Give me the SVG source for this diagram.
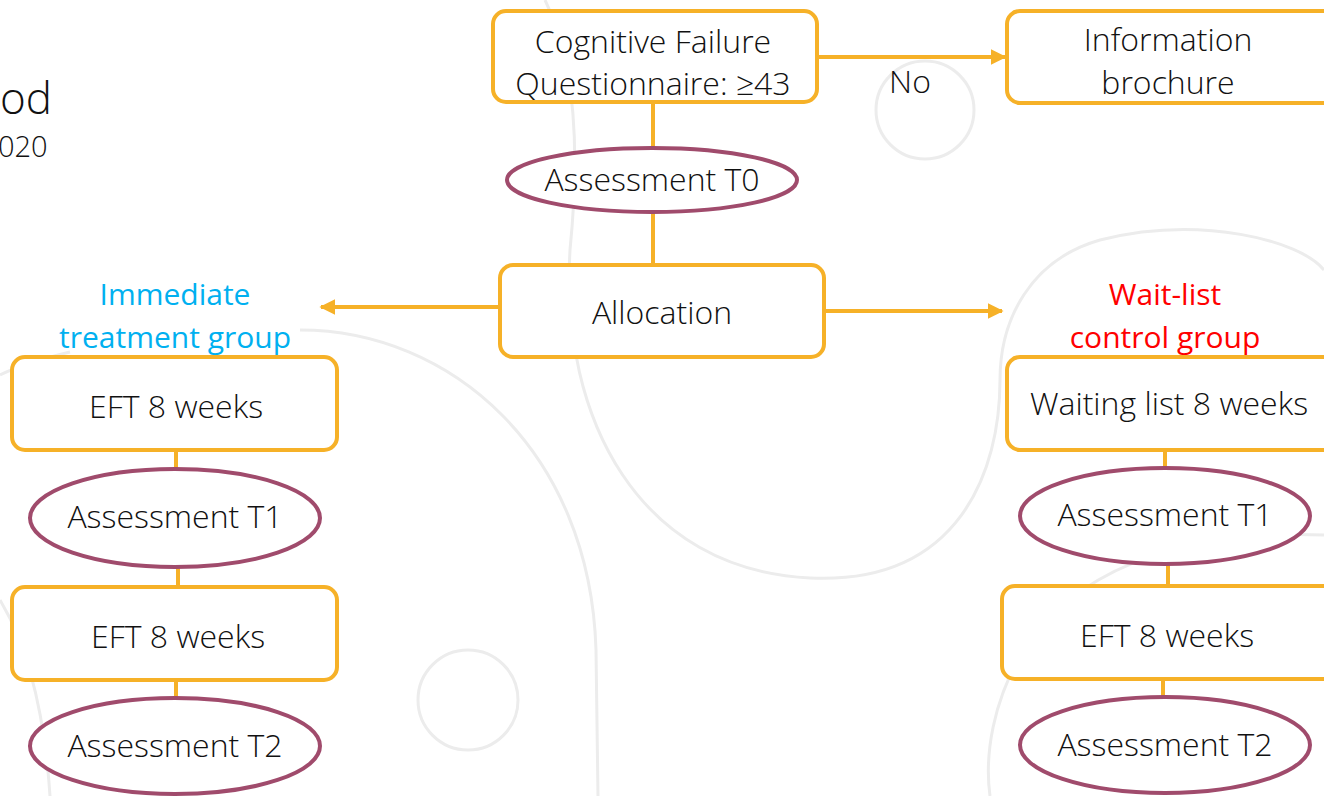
<svg xmlns="http://www.w3.org/2000/svg" width="1324" height="796" viewBox="0 0 1324 796">
<defs>
<style>
.bg{fill:none;stroke:#ececec;stroke-width:3}
.box{fill:#fff;stroke:#F6B128;stroke-width:4}
.ell{fill:#fff;stroke:#A04B6C;stroke-width:4}
.ln{fill:none;stroke:#F6B128;stroke-width:4}
.t{font-family:"Open Sans","Noto Sans",sans-serif;font-size:32px;fill:#111;text-anchor:middle;font-weight:300}
.g{font-family:"Open Sans","Noto Sans",sans-serif;font-size:30px;text-anchor:middle}
</style>
<marker id="ah" viewBox="0 0 10 10" refX="9" refY="5" markerWidth="4" markerHeight="4" orient="auto-start-reverse" markerUnits="strokeWidth">
<path d="M0,0 L10,5 L0,10 z" fill="#F6B128"/>
</marker>
</defs>
<rect width="1324" height="796" fill="#fff"/>
<g id="background">
<circle class="bg" cx="925" cy="110" r="49"/>
<circle class="bg" cx="468" cy="700" r="50"/>
<path class="bg" d="M545,0 C575,60 580,150 570,250 C560,420 640,570 810,578 C960,585 1000,470 1000,380 C1000,320 1030,260 1100,240 C1200,215 1300,240 1324,270"/>
<path class="bg" d="M300,330 C450,330 590,450 596,650 L598,796"/>
<path class="bg" d="M0,375 C20,365 45,358 70,352"/>
<path class="bg" d="M1324,535 C1200,530 1090,560 1030,640 C990,700 985,760 990,796"/>
<path class="bg" d="M0,600 C30,650 45,720 50,796"/>
</g>
<g id="header">
<text x="0" y="114" style="font-family:'Open Sans','Noto Sans',sans-serif;font-size:44px;fill:#111;font-weight:300">od</text>
<text x="-2" y="157" style="font-family:'Open Sans','Noto Sans',sans-serif;font-size:29px;fill:#111;font-weight:300">020</text>
</g>
<g id="connectors">
<line class="ln" x1="817" y1="57" x2="1005" y2="57" marker-end="url(#ah)"/>
<line class="ln" x1="653" y1="102" x2="653" y2="150"/>
<line class="ln" x1="653" y1="211" x2="653" y2="266"/>
<line class="ln" x1="500" y1="307" x2="321" y2="307" marker-end="url(#ah)"/>
<line class="ln" x1="824" y1="311" x2="1002" y2="311" marker-end="url(#ah)"/>
<line class="ln" x1="176" y1="450" x2="176" y2="470"/>
<line class="ln" x1="178" y1="566" x2="178" y2="588"/>
<line class="ln" x1="176" y1="680" x2="176" y2="700"/>
<line class="ln" x1="1165" y1="450" x2="1165" y2="469"/>
<line class="ln" x1="1168" y1="563" x2="1168" y2="587"/>
<line class="ln" x1="1163" y1="679" x2="1163" y2="700"/>
<text x="910" y="93" class="t">No</text>
</g>
<g id="cfq">
<rect class="box" x="493" y="11" width="324" height="91" rx="13"/>
<text x="653" y="53" class="t">Cognitive Failure</text>
<text x="653" y="95" class="t">Questionnaire: ≥43</text>
</g>
<g id="brochure">
<rect class="box" x="1007" y="11" width="330" height="92" rx="13"/>
<text x="1168" y="51" class="t">Information</text>
<text x="1168" y="94" class="t">brochure</text>
</g>
<g id="t0">
<ellipse class="ell" cx="652" cy="180" rx="145" ry="32"/>
<text x="652" y="191" class="t">Assessment T0</text>
</g>
<g id="allocation">
<rect class="box" x="500" y="265" width="324" height="92" rx="13"/>
<text x="662" y="324" class="t">Allocation</text>
</g>
<g id="immediate">
<text x="175" y="305" class="g" fill="#00B0F0">Immediate</text>
<text x="175" y="348" class="g" fill="#00B0F0">treatment group</text>
</g>
<g id="waitlist">
<text x="1165" y="305" class="g" fill="#FF0000">Wait-list</text>
<text x="1165" y="348" class="g" fill="#FF0000">control group</text>
</g>
<g id="left-eft1">
<rect class="box" x="12" y="357" width="325" height="93" rx="13"/>
<text x="176" y="418" class="t">EFT 8 weeks</text>
</g>
<g id="left-t1">
<ellipse class="ell" cx="175" cy="518" rx="145" ry="49"/>
<text x="175" y="528" class="t">Assessment T1</text>
</g>
<g id="left-eft2">
<rect class="box" x="12" y="587" width="325" height="93" rx="13"/>
<text x="178" y="648" class="t">EFT 8 weeks</text>
</g>
<g id="left-t2">
<ellipse class="ell" cx="175" cy="746" rx="145" ry="48"/>
<text x="175" y="757" class="t">Assessment T2</text>
</g>
<g id="right-wait">
<rect class="box" x="1007" y="357" width="330" height="93" rx="13"/>
<text x="1169" y="415" class="t">Waiting list 8 weeks</text>
</g>
<g id="right-t1">
<ellipse class="ell" cx="1165" cy="516" rx="145" ry="48"/>
<text x="1165" y="526" class="t">Assessment T1</text>
</g>
<g id="right-eft">
<rect class="box" x="1002" y="586" width="335" height="93" rx="13"/>
<text x="1167" y="647" class="t">EFT 8 weeks</text>
</g>
<g id="right-t2">
<ellipse class="ell" cx="1165" cy="745" rx="145" ry="48"/>
<text x="1165" y="756" class="t">Assessment T2</text>
</g>
</svg>
